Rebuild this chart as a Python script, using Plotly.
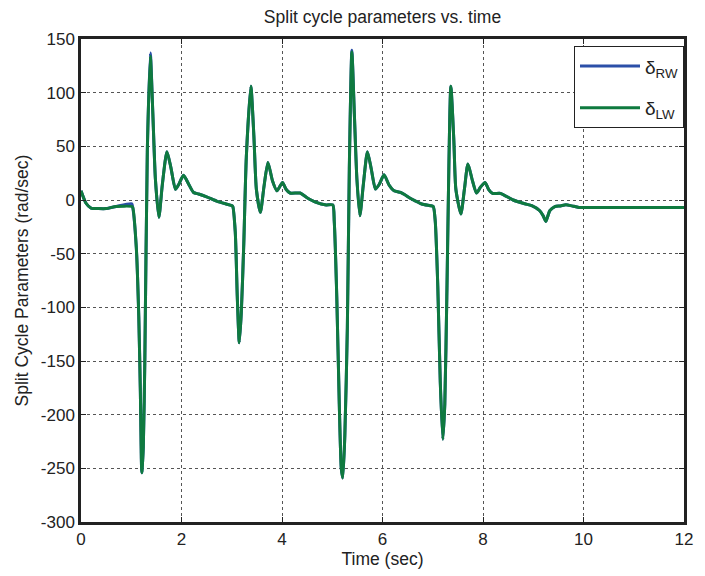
import plotly.graph_objects as go

# Time samples (sec) and values (rad/sec)
t = [0.00, 0.10, 0.20, 0.35, 0.50, 0.70, 1.01, 1.03, 1.10, 1.15, 1.18, 1.21, 1.24, 1.27, 1.32, 1.38,
     1.43, 1.48, 1.55, 1.62, 1.71, 1.79, 1.88, 1.95, 2.04, 2.14, 2.24, 2.34, 2.50, 2.70, 2.89, 2.99,
     3.02, 3.07, 3.11, 3.15, 3.19, 3.24, 3.29, 3.38, 3.44, 3.49, 3.57, 3.64, 3.72, 3.81, 3.90, 4.01,
     4.08, 4.16, 4.36, 4.49, 4.68, 4.88, 5.01, 5.04, 5.09, 5.14, 5.18, 5.21, 5.25, 5.30, 5.34, 5.39,
     5.44, 5.49, 5.55, 5.62, 5.70, 5.78, 5.86, 5.94, 6.03, 6.13, 6.23, 6.36, 6.58, 6.78, 6.95, 7.01,
     7.05, 7.10, 7.15, 7.20, 7.24, 7.28, 7.36, 7.42, 7.46, 7.56, 7.63, 7.70, 7.79, 7.87, 7.95, 8.04,
     8.11, 8.19, 8.35, 8.60, 8.83, 8.97, 9.13, 9.20, 9.25, 9.29, 9.33, 9.43, 9.54, 9.65, 9.77, 9.91,
     10.5, 11.0, 11.5, 12.0]
d_lw = [8.6, -3, -7.5, -8, -8, -6, -6, -7, -44, -109, -175, -254, -230, -150, 46, 134,
        80, 20, -16, 15, 45, 30, 10, 15, 23, 15, 7, 5.6, 3, -1, -3.7, -5,
        -6, -30, -90, -133, -105, -40, 40, 106, 60, 10, -11.5, 12, 35, 18, 8.6, 16.4,
        10, 6.5, 6.5, 2.4, -2.2, -4.6, -4.6, -20, -90, -190, -250, -259, -220, -120, 30, 138,
        80, 20, -14.6, 15, 45, 28, 10.2, 15, 23.5, 14, 8.6, 7, 0.9, -3.7, -5.3, -6,
        -20, -80, -170, -223, -190, -90, 106, 55, 10, -13, 10, 33.5, 18, 6.5, 12, 16.4,
        10, 6.1, 6.1, 0, -3.5, -5.3, -10, -15, -20, -15, -10, -6.2, -5.5, -4.4, -5.5, -6.9,
        -6.9, -6.9, -6.9, -6.9]
# Right wing: almost identical, small differences at the tips
d_rw = list(d_lw)
d_rw[6] = -3.5
d_rw[15] = 137
d_rw[63] = 139.5

x_ticks = [0, 2, 4, 6, 8, 10, 12]
y_ticks = [-300, -250, -200, -150, -100, -50, 0, 50, 100, 150]
y_ticktext = ["-300", "-250", "-200", "-150", "-100", "-50", "0", "50", "100", "150"]

fig = go.Figure()
fig.add_trace(go.Scatter(x=t, y=d_rw, mode="lines", name="δ<sub>RW</sub>", legendgroup="rw",
                         line=dict(color="#2b4fa8", width=3, shape="spline", smoothing=0.6)))
fig.add_trace(go.Scatter(x=t, y=d_lw, mode="lines", name="δ<sub>LW</sub>", legendgroup="lw",
                         line=dict(color="#0f7a3f", width=3, shape="spline", smoothing=0.6)))

font_family = "Arial, Liberation Sans, sans-serif"
axis_common = dict(showline=True, linecolor="#222", linewidth=2.5, mirror="ticks",
                   ticks="inside", ticklen=5, tickcolor="#222", tickwidth=1,
                   showgrid=True, gridcolor="#555", gridwidth=1, griddash="3px,3px",
                   zeroline=False, tickfont=dict(size=17, color="#222"))

fig.update_layout(
    width=705, height=576,
    margin=dict(l=81, r=12, t=39, b=54),
    paper_bgcolor="white", plot_bgcolor="white",
    font=dict(family=font_family, color="#222"),
    title=dict(text="Split cycle parameters vs. time", x=0.5, xref="paper", xanchor="center",
               y=0.970, yref="container", yanchor="middle",
               font=dict(size=17.5, color="#222")),
    xaxis=dict(range=[0, 12], tickvals=x_ticks,
               title=dict(text="Time (sec)", font=dict(size=17.5), standoff=2), **axis_common),
    yaxis=dict(range=[-300, 150], tickvals=y_ticks, ticktext=y_ticktext,
               title=dict(text="Split Cycle Parameters (rad/sec)", font=dict(size=17.5), standoff=8),
               **axis_common),
    legend=dict(x=1.0, y=0.985, xanchor="right", yanchor="top",
                bgcolor="white", bordercolor="#222", borderwidth=1,
                font=dict(size=19, color="#222"), itemwidth=60,
                tracegroupgap=14),
    showlegend=True,
)

fig.write_html("out.html")
